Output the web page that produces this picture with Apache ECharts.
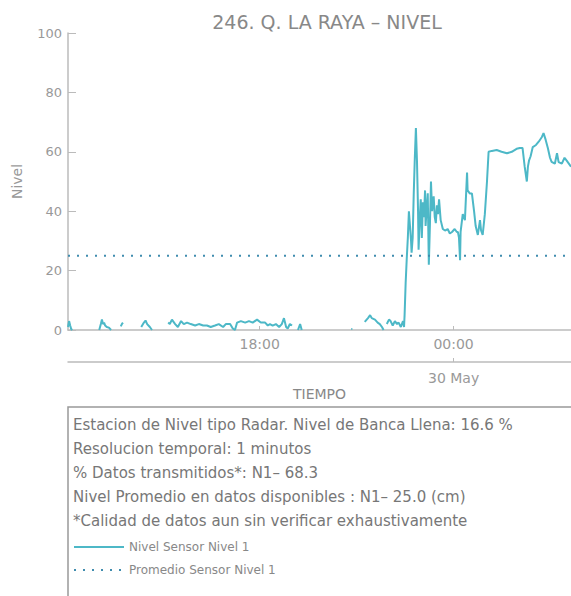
<!DOCTYPE html>
<html>
<head>
<meta charset="utf-8">
<script src="https://cdn.jsdelivr.net/npm/echarts@6/dist/echarts.min.js"></script>
<style>
  html, body { margin: 0; padding: 0; background: #fff; }
  #chart { width: 571px; height: 596px; }
</style>
</head>
<body>
<div id="chart"></div>
<script>
// minutos desde las 12:00 del 29 de mayo (null en nivel = sin dato)
const minutos = [
  4, 6, 8, 10, 12, 30,
  62, 65, 67, 69, 71, 73, 76, 80, 84, 90,
  102, 104, 106, 120,
  140, 145, 148, 151, 156, 160, 175,
  190, 193, 197, 203, 208, 214, 219, 225, 232, 240, 247, 255, 262, 269, 277, 284, 292, 297,
  305, 310, 314, 318, 325, 333, 340, 347, 355, 362, 370, 375, 379, 384, 390, 396, 401, 405,
  409, 412, 416, 420, 426,
  431, 435, 438, 450,
  530, 532, 540,
  555, 561, 565, 568, 574, 579, 583, 587, 590, 593,
  596, 600, 603, 607, 611, 615, 618, 622, 626, 628, 629, 631, 633, 635, 637, 639, 641, 642,
  644, 646, 648, 650, 652, 654, 655, 657, 659, 661, 663, 665, 667, 668, 670, 672, 674, 676,
  678, 680, 683, 685, 687, 689, 691, 693, 696, 700, 704, 709, 713, 717, 722, 726, 728, 730,
  732, 733, 737, 741, 745, 746, 750, 754, 758, 761, 765, 769, 771, 774, 778, 782, 785, 791,
  800, 809, 819, 828, 837, 843, 848, 852, 856, 858, 860, 863, 867, 873, 878, 884, 887, 891,
  895, 899, 902, 908, 912, 915, 921, 926, 930, 936, 938
]
const nivel = [
  1, 3, 1.5, 0.3, 0, null,
  0, 2, 3.5, 2, 2.5, 1.5, 1, 0.8, 0, null,
  1.2, 2, 2.5, null,
  1, 2.5, 3.2, 2, 1, 0, null,
  2.5, 2, 3.5, 2, 1, 3, 2, 2.5, 2, 1.5, 2, 1.5, 1.5, 1, 1.5, 2, 1, 2,
  2, 0.5, 0, 2.5, 3, 2.5, 3, 2.5, 3.5, 2.5, 2.5, 1.5, 2, 1.5, 2, 1, 2, 4,
  1, 0.5, 2, 1.5, null,
  0, 2, 0, null,
  0.3, 0.3, null,
  2.7, 4, 5, 4, 3.5, 2.5, 2, 1, 0, null,
  2, 3.5, 3, 1.5, 3, 2, 2.5, 1, 3, 1, 5, 16, 24, 31, 40, 35, 30, 26,
  31, 46, 58, 68, 57, 40, 27, 37, 44, 31, 43, 38, 47, 35, 41, 46, 22, 35,
  50, 40, 45, 38, 36, 42, 39, 44, 37, 34, 33.5, 34, 32.5, 33, 34, 33, 33, 31,
  23.5, 33, 39, 37, 53, 47, 46, 46, 40, 35, 32, 37, 33.5, 32, 39, 50, 60, 60.3,
  60.6, 60, 59.5, 60, 61, 61.3, 61.3, 55, 50, 55, 57, 58.5, 61.6, 62.3, 63.4, 65, 66.3, 64,
  61.3, 58, 56.6, 56, 59.5, 56.5, 56, 58, 57, 55.5, 55
]
const promedio = 25.0
const minInicio = 4
const minFin = 938
const marcasHora = [360, 720]   // 18:00 y 00:00
const marcasFecha = [720]       // 30 May

const titulo = '246. Q. LA RAYA \u2013 NIVEL'
const notas = [
  'Estacion de Nivel tipo Radar. Nivel de Banca Llena: 16.6 %',
  'Resolucion temporal: 1 minutos',
  '% Datos transmitidos*: N1\u2013 68.3',
  'Nivel Promedio en datos disponibles : N1\u2013 25.0 (cm)',
  '*Calidad de datos aun sin verificar exhaustivamente'
]

const base = new Date(2023, 4, 29, 12, 0).getTime()
const ts = m => base + m * 60000
const pad = n => String(n).padStart(2, '0')
const fuente = 'DejaVu Sans, sans-serif'
const gris = '#999'
const lineaEje = '#bbb'

const chart = echarts.init(document.getElementById('chart'), null, { renderer: 'svg' })

const serieNivel = minutos.map((m, i) => [ts(m), nivel[i] === null ? '-' : nivel[i]])
const seriePromedio = [[ts(minInicio), promedio], [ts(minFin), promedio]]

const option = {
  animation: false,
  textStyle: { fontFamily: fuente },
  title: {
    text: titulo,
    left: 322,
    textAlign: 'center',
    top: 7,
    textStyle: { color: '#888', fontSize: 19, fontWeight: 'normal', fontFamily: fuente }
  },
  grid: { left: 68, right: 0, top: 33, bottom: 266 },
  legend: {
    orient: 'vertical',
    left: 73,
    top: 541,
    padding: 0,
    itemWidth: 50,
    itemHeight: 14,
    itemGap: 11,
    itemStyle: { opacity: 0 },
    textStyle: { color: '#888', fontSize: 12, fontFamily: fuente },
    data: ['Nivel Sensor Nivel 1', 'Promedio Sensor Nivel 1']
  },
  xAxis: [
    {
      type: 'value',
      min: ts(minInicio),
      max: ts(minFin),
      axisLine: { lineStyle: { color: lineaEje, width: 1.5 } },
      axisTick: { inside: true, length: 4, lineStyle: { color: lineaEje }, customValues: marcasHora.map(ts) },
      axisLabel: {
        color: gris, fontSize: 14, margin: 7,
        customValues: marcasHora.map(ts),
        formatter: v => { const d = new Date(v); return pad(d.getHours()) + ':' + pad(d.getMinutes()) }
      },
      splitLine: { show: false }
    },
    {
      type: 'value',
      position: 'bottom',
      offset: 32,
      min: ts(minInicio),
      max: ts(minFin),
      axisLine: { lineStyle: { color: lineaEje, width: 1.5 } },
      axisTick: { inside: true, length: 4, lineStyle: { color: lineaEje }, customValues: marcasFecha.map(ts) },
      axisLabel: {
        color: gris, fontSize: 14, margin: 9,
        customValues: marcasFecha.map(ts),
        formatter: () => '30 May'
      },
      splitLine: { show: false },
      name: 'TIEMPO',
      nameLocation: 'middle',
      nameGap: 25,
      nameTextStyle: { color: '#888', fontSize: 14 }
    }
  ],
  yAxis: {
    type: 'value',
    min: 0,
    max: 100,
    interval: 20,
    name: 'Nivel',
    nameLocation: 'middle',
    nameRotate: 90,
    nameGap: 44,
    nameTextStyle: { color: gris, fontSize: 14 },
    axisLine: { show: true, lineStyle: { color: lineaEje, width: 1.5 } },
    axisTick: { show: true, inside: true, length: 8, lineStyle: { color: lineaEje } },
    axisLabel: { color: gris, fontSize: 13, margin: 6 },
    splitLine: { show: false }
  },
  graphic: [
    {
      type: 'rect',
      shape: { x: 68, y: 407, width: 520, height: 220 },
      style: { fill: 'none', stroke: '#999', lineWidth: 1.5 }
    },
    ...notas.map((t, i) => ({
      type: 'text',
      left: 73,
      top: 417 + i * 24,
      style: { text: t, fill: '#777', fontSize: 15, fontFamily: fuente }
    }))
  ],
  series: [
    {
      name: 'Nivel Sensor Nivel 1',
      type: 'line',
      xAxisIndex: 0,
      data: serieNivel,
      symbol: 'none',
      connectNulls: false,
      lineStyle: { color: '#4db8c7', width: 2 },
      itemStyle: { color: '#4db8c7' }
    },
    {
      name: 'Promedio Sensor Nivel 1',
      type: 'line',
      xAxisIndex: 0,
      data: seriePromedio,
      symbol: 'none',
      lineStyle: { color: '#3f8cae', width: 2, type: [2, 7] },
      itemStyle: { color: '#3f8cae' }
    }
  ]
}

chart.setOption(option)
</script>
</body>
</html>
